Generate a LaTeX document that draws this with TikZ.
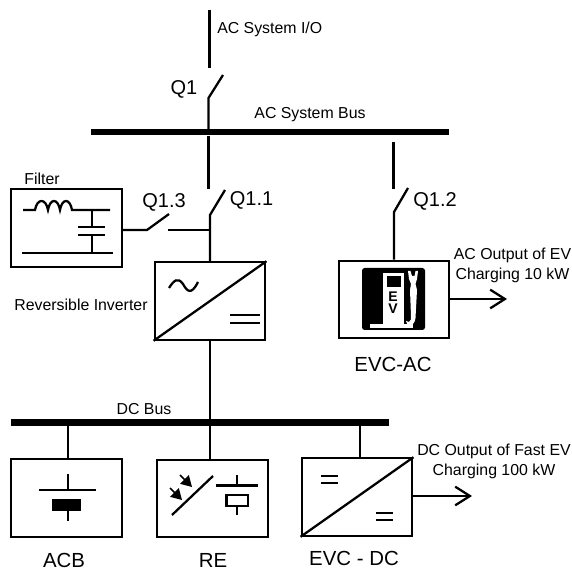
\documentclass[tikz,border=0pt]{standalone}
\usepackage{fontspec}
\setmainfont{Liberation Sans}
\usetikzlibrary{calc,arrows.meta,positioning}
\tikzset{
    wire/.style={line width=1.7pt},
    unitbox/.style={draw, line width=1.7pt, minimum width=83pt, minimum height=58pt, inner sep=0pt},
    busbar/.style={fill=black, inner sep=0pt, minimum height=5pt},
    smalltext/.style={font=\fontsize{11.9}{15}\selectfont, inner sep=0pt, align=center},
    swtext/.style={font=\fontsize{15}{17}\selectfont, inner sep=0pt},
    unitname/.style={font=\fontsize{15.3}{17}\selectfont, inner sep=0pt},
    outarrow/.style={wire, -{Straight Barb[length=11pt,width=14pt,line width=1.7pt]}},
    lightarrow/.style={line width=1.1pt, -{Triangle[length=8pt,width=9pt]}},
}
\begin{document}
\begin{tikzpicture}[x=0.75pt,y=-0.75pt]
    \useasboundingbox (0,0) rectangle (572,570);
    % busbars
    \node[busbar, minimum width=268.5pt] (acbus) at (270,132) {};
    \node[busbar, minimum width=283.5pt] (dcbus) at (200,422.5) {};
    % boxes
    \node[unitbox] (filter) at (66.5,228) {};
    \node[unitbox] (inverter) at (210,301) {};
    \node[unitbox] (evcac) at (394,299.5) {};
    \node[unitbox] (acb) at (66.5,498) {};
    \node[unitbox] (re) at (212.5,498.5) {};
    \node[unitbox] (evcdc) at (357,497) {};
    % switch Q1
    \coordinate (acio) at (209.5,10);
    \coordinate (qonetop) at (209.5,68);
    \coordinate (qonefree) at (223,75);
    \coordinate (qonepivot) at (208.5,98);
    \draw[wire] (acio) -- (qonetop);
    \draw[wire] (qonefree) -- (qonepivot) -- (qonepivot |- acbus);
    % switch Q1.1
    \coordinate (qoneonetop) at (208.5,189);
    \coordinate (qoneonefree) at (225,190);
    \coordinate (qoneonepivot) at (210,215);
    \draw[wire] (acbus.south -| qoneonetop) -- (qoneonetop);
    \draw[wire] (qoneonefree) -- (qoneonepivot) -- (qoneonepivot |- inverter.north);
    % switch Q1.2
    \coordinate (qonetwotop) at (393.5,142);
    \coordinate (qonetwoend) at (393.5,189);
    \coordinate (qonetwofree) at (408,188);
    \coordinate (qonetwopivot) at (394,212);
    \draw[wire] (qonetwotop) -- (qonetwoend);
    \draw[wire] (qonetwofree) -- (qonetwopivot) -- (qonetwopivot |- evcac.north);
    % switch Q1.3
    \coordinate (qonethreepivot) at (147,230);
    \coordinate (qonethreefree) at (169,214);
    \coordinate (qonethreeend) at (168,230);
    \draw[wire] (filter.east |- qonethreepivot) -- (qonethreepivot) -- (qonethreefree);
    \draw[wire] (qonethreeend) -- (qoneonepivot |- qonethreeend);
    % filter symbol
    \draw[wire] (23,210) -- (35,210) .. controls (37,198) and (46,198) .. (48,210)
        .. controls (50,198) and (58,198) .. (60,210)
        .. controls (62,198) and (70,198) .. (72,210) -- (110,210);
    \draw[wire] (92,210) -- (92,227) (78,227) -- (105,227) (78,235) -- (105,235) (92,235) -- (92,253);
    \draw[wire] (22,253) -- (113,253);
    % inverter symbol and dc bus feed
    \draw[wire] (inverter.south west) -- (inverter.north east);
    \draw[wire] (169,288) .. controls (174,280) and (178,277) .. (183,284)
        .. controls (187,291) and (191,296) .. (198,282);
    \draw[wire] (230,315) -- (260,315) (230,323) -- (260,323);
    \draw[wire] (inverter.south) -- (inverter.south |- re.north);
    % dc feeders
    \draw[wire] (acb.north -| 68,0) -- (dcbus.south -| 68,0);
    \draw[wire] (evcdc.north -| 360,0) -- (dcbus.south -| 360,0);
    % acb symbol
    \draw[wire] (68,474) -- (68,490) (39,490) -- (96,490);
    \fill (52,499) rectangle (81,511);
    \draw[wire] (68,511) -- (68,521);
    % re symbol
    \draw[wire] (172,515) -- (213,476);
    \draw[lightarrow] (170,488) -- (182,500);
    \draw[lightarrow] (180,475) -- (192,487);
    \draw[wire] (216,485.5) -- (258,485.5) (237,475) -- (237,485.5);
    \draw[wire] (226.5,495) rectangle (248,506);
    \draw[wire] (237,506) -- (237,515);
    % evc dc symbol
    \draw[wire] (evcdc.south west) -- (evcdc.north east);
    \foreach \xa/\ya in {321/476,376/513}
        \draw[wire] (\xa,\ya) -- (\xa+17,\ya) (\xa,\ya+7) -- (\xa+17,\ya+7);
    % ev charger icon
    \fill[rounded corners=2pt] (362,268) rectangle (425,330);
    \fill[white] (383,273) rectangle (404,325);
    \fill[white] (370,324) rectangle (413,328);
    \fill (387,276) rectangle (401,287);
    \node[font=\bfseries\fontsize{10.5}{10.5}\selectfont, inner sep=0pt] (eletter) at (393,297) {E};
    \node[font=\bfseries\fontsize{10.5}{10.5}\selectfont, inner sep=0pt] (vletter) at (393,309) {V};
    \fill[white] (408,271) -- (410.5,271) -- (412,276) -- (414.5,276) -- (415.5,271) -- (418,271)
        -- (417,279) -- (415.5,284) -- (417,290) -- (415.5,318) .. controls (415,323) and (412,326) .. (408,326)
        -- (406,321) -- (409,322) .. controls (411,321) and (411,319) .. (411,316) -- (410,290) -- (411,284) -- (409,279) -- cycle;
    % outputs
    \coordinate (acoutend) at (507,299);
    \coordinate (dcoutend) at (472,496);
    \draw[outarrow] (evcac.east |- acoutend) -- (acoutend);
    \draw[outarrow] (evcdc.east |- dcoutend) -- (dcoutend);
    % labels
    \node[smalltext, anchor=west] (aciotext) at (217,29) {AC System I/O};
    \node[smalltext] (acbustext) at (310,115) {AC System Bus};
    \node[smalltext] (dcbustext) at (144,409) {DC Bus};
    \node[smalltext] (filtertext) at (42,179) {Filter};
    \node[smalltext] (invertertext) at (81,305) {Reversible Inverter};
    \node[smalltext] (acouttext) at (512.5,265) {AC Output of EV\\Charging 10 kW};
    \node[smalltext] (dcouttext) at (494,461) {DC Output of Fast EV\\Charging 100 kW};
    \node[swtext] (qonetext) at (184,89) {Q1};
    \node[swtext] (qoneonetext) at (251.5,200) {Q1.1};
    \node[swtext] (qonetwotext) at (435,201) {Q1.2};
    \node[swtext] (qonethreetext) at (164,202) {Q1.3};
    \node[unitname] (evcactext) at (393,364) {EVC-AC};
    \node[unitname] (acbtext) at (64,560) {ACB};
    \node[unitname] (retext) at (213,560) {RE};
    \node[unitname] (evcdctext) at (354,558) {EVC - DC};
\end{tikzpicture}
\end{document}
